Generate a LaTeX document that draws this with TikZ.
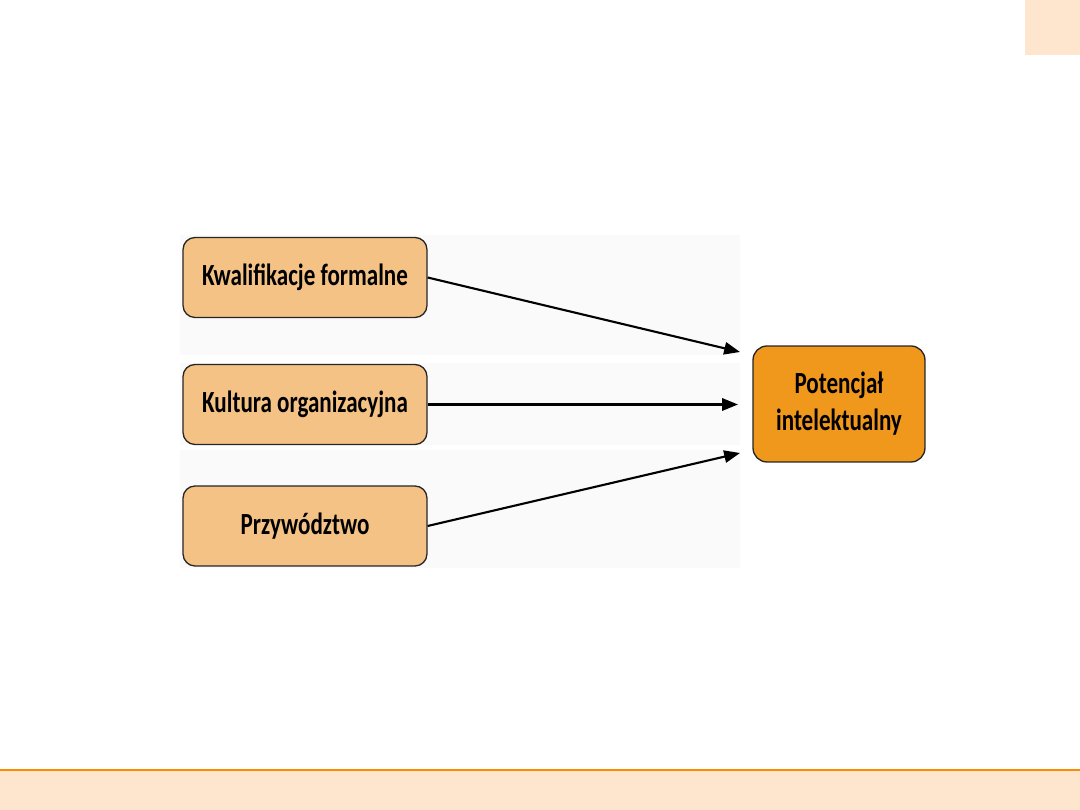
\documentclass[tikz,border=0pt]{standalone}
\usepackage{fontspec}
\setmainfont{Carlito}[FakeStretch=0.75]
\usepackage{tikz}
\usepackage{xcolor}
\usetikzlibrary{arrows.meta}

\definecolor{boxlight}{HTML}{F4C285}
\definecolor{boxdark}{HTML}{F0981C}
\definecolor{bandfill}{HTML}{FEE6CE}
\definecolor{bandline}{HTML}{FF8C00}

\begin{document}
\begin{tikzpicture}[x=0.02cm, y=-0.02cm,
		factor/.style={draw=black!85, line width=0.75pt, rounded corners=0.24cm, fill=boxlight,
			minimum width=4.88cm, minimum height=1.6cm, font=\bfseries\fontsize{17.5}{19}\selectfont},
		result/.style={draw=black!85, line width=0.75pt, rounded corners=0.28cm, fill=boxdark,
			minimum width=3.44cm, minimum height=2.32cm, align=center,
			font=\bfseries\fontsize{17.5}{21}\selectfont},
		link/.style={-{Triangle[length=9pt, width=7pt]}, line width=1.2pt}]
	\useasboundingbox (0,0) rectangle (1080,810);
	
	% Slide decoration
	\fill[bandfill] (1025,0) rectangle (1080,55);
	\fill[bandfill] (0,770) rectangle (1080,810);
	\draw[bandline, line width=0.8pt] (0,770) -- (1080,770);
	
	% Faint background bands
	\fill[black!2] (180,235) rectangle (740,355);
	\fill[black!2] (180,363) rectangle (740,445);
	\fill[black!2] (180,450) rectangle (740,568);
	
	% Factors
	\node[factor] (kwal) at (305,277.5) {Kwalifikacje formalne};
	\node[factor] (kult) at (305,404.5) {Kultura organizacyjna};
	\node[factor] (przyw) at (305,526) {Przywództwo};
	
	% Result
	\node[result] (potencjal) at (839,404) {Potencjał\\intelektualny};
	
	% Arrow ends, left of the result box
	\coordinate (end1) at (740,352);
	\coordinate (end2) at (738,404.5);
	\coordinate (end3) at (740,453);
	
	% Arrows
	\draw[link] (kwal.east) -- (end1);
	\draw[link] (kult.east) -- (end2);
	\draw[link] (przyw.east) -- (end3);
\end{tikzpicture}
\end{document}
